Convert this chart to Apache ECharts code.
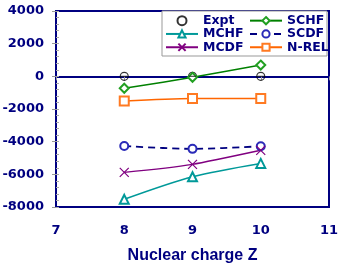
<!DOCTYPE html>
<html><head><meta charset="utf-8">
<script src="https://cdn.jsdelivr.net/npm/echarts@6/dist/echarts.min.js"></script>
<style>html,body{margin:0;padding:0;background:#fff}#c{width:341px;height:264px}</style>
</head><body><div id="c"></div>
<script>
var zValues = [8, 9, 10];
var expt = [0, 0, 0];
var schf = [-730, -60, 690];
var mchf = [-7530, -6150, -5330];
var scdf = [-4270, -4440, -4280];
var mcdf = [-5880, -5390, -4530];
var nrel = [-1510, -1350, -1350];
var xLabel = 'Nuclear charge Z';

function pts(arr){ return zValues.map(function(z,i){ return [z, arr[i]]; }); }
var navy = '#000080';
var tickFont = {color: navy, fontFamily: 'DejaVu Sans', fontWeight: 'bold', fontSize: 13, formatter: function(v){ return String(v); }};
var chart = echarts.init(document.getElementById('c'));
var crossPath = 'path://M0,0L10,10M10,0L0,10';
var legText = {color: navy, fontFamily: 'DejaVu Sans', fontWeight: 'bold', fontSize: 12.5, lineHeight: 13.3};
chart.setOption({
  animation: false,
  grid: {left: 56, right: 12, top: 11, bottom: 57, show: true, borderColor: navy, borderWidth: 2, backgroundColor: 'transparent', outerBoundsMode: 'none', containLabel: false},
  xAxis: {type: 'value', min: 7, max: 11, interval: 1,
    name: xLabel, nameLocation: 'middle', nameGap: 41,
    nameTextStyle: {color: navy, fontFamily: 'Liberation Sans', fontWeight: 'bold', fontSize: 16},
    axisLine: {lineStyle: {color: navy, width: 2}},
    axisTick: {show: true, length: 4, lineStyle: {color: '#999'}},
    axisLabel: Object.assign({margin: 17}, tickFont),
    splitLine: {show: false}},
  yAxis: [{type: 'value', min: -8000, max: 4000, interval: 2000,
    axisLine: {lineStyle: {color: navy, width: 2}},
    axisTick: {show: true, length: 4, lineStyle: {color: '#999'}},
    axisLabel: Object.assign({margin: 12}, tickFont),
    splitLine: {show: false}},
   {type: 'value', min: -8000, max: 4000, interval: 2000, position: 'left',
    axisLine: {show: false},
    axisTick: {show: true, inside: true, length: 3, lineStyle: {color: '#aaa'}},
    minorTick: {show: true, splitNumber: 5, length: 3, lineStyle: {color: '#aaa'}},
    axisLabel: {show: false}, splitLine: {show: false}}],
  graphic: [{type: 'rect', shape: {x: 162, y: 11, width: 165, height: 45}, style: {fill: '#fff', stroke: '#999', lineWidth: 1}, z: 3}],
  legend: [
    {orient: 'vertical', left: 165, top: 14, padding: 0, itemWidth: 32, itemHeight: 9, itemGap: 0,
     data: ['Expt', 'MCHF', 'MCDF'], textStyle: legText},
    {orient: 'vertical', left: 249, top: 14, padding: 0, itemWidth: 32, itemHeight: 9, itemGap: 0,
     data: ['SCHF', 'SCDF', 'N-REL'], textStyle: legText}
  ],
  series: [
    {name: 'SCDF', type: 'line', data: pts(scdf), smooth: 0.3, symbol: 'emptyCircle', symbolSize: 8,
     lineStyle: {color: navy, width: 1.8, type: [7, 5]}, itemStyle: {color: '#2a2ab8'}},
    {name: 'MCHF', type: 'line', data: pts(mchf), smooth: 0.3, symbol: 'emptyTriangle', symbolSize: 9,
     lineStyle: {color: '#009999', width: 1.5}, itemStyle: {color: '#009999'}},
    {name: 'MCDF', type: 'line', data: pts(mcdf), smooth: 0.3, symbol: crossPath, symbolSize: 9,
     lineStyle: {color: '#800080', width: 1.5}, itemStyle: {color: '#800080', borderColor: '#800080', borderWidth: 1.2}},
    {name: 'N-REL', type: 'line', data: pts(nrel), smooth: 0.3, symbol: 'emptyRect', symbolSize: 9,
     lineStyle: {color: '#ff6600', width: 1.5}, itemStyle: {color: '#ff7a22'}},
    {name: 'SCHF', type: 'line', data: pts(schf), smooth: 0.3, symbol: 'emptyDiamond', symbolSize: 9,
     lineStyle: {color: '#008000', width: 1.5}, itemStyle: {color: '#22a022'}},
    {name: 'Expt', type: 'scatter', data: pts(expt), symbol: 'circle', symbolSize: 8,
     itemStyle: {color: 'rgba(255,255,255,0)', borderColor: '#000', borderWidth: 1.1}},
    {name: 'ExptBar', type: 'scatter', data: pts(expt), symbol: 'rect', symbolSize: [7, 1.2],
     itemStyle: {color: '#222'}, z: 3}
  ]
});
</script></body></html>
